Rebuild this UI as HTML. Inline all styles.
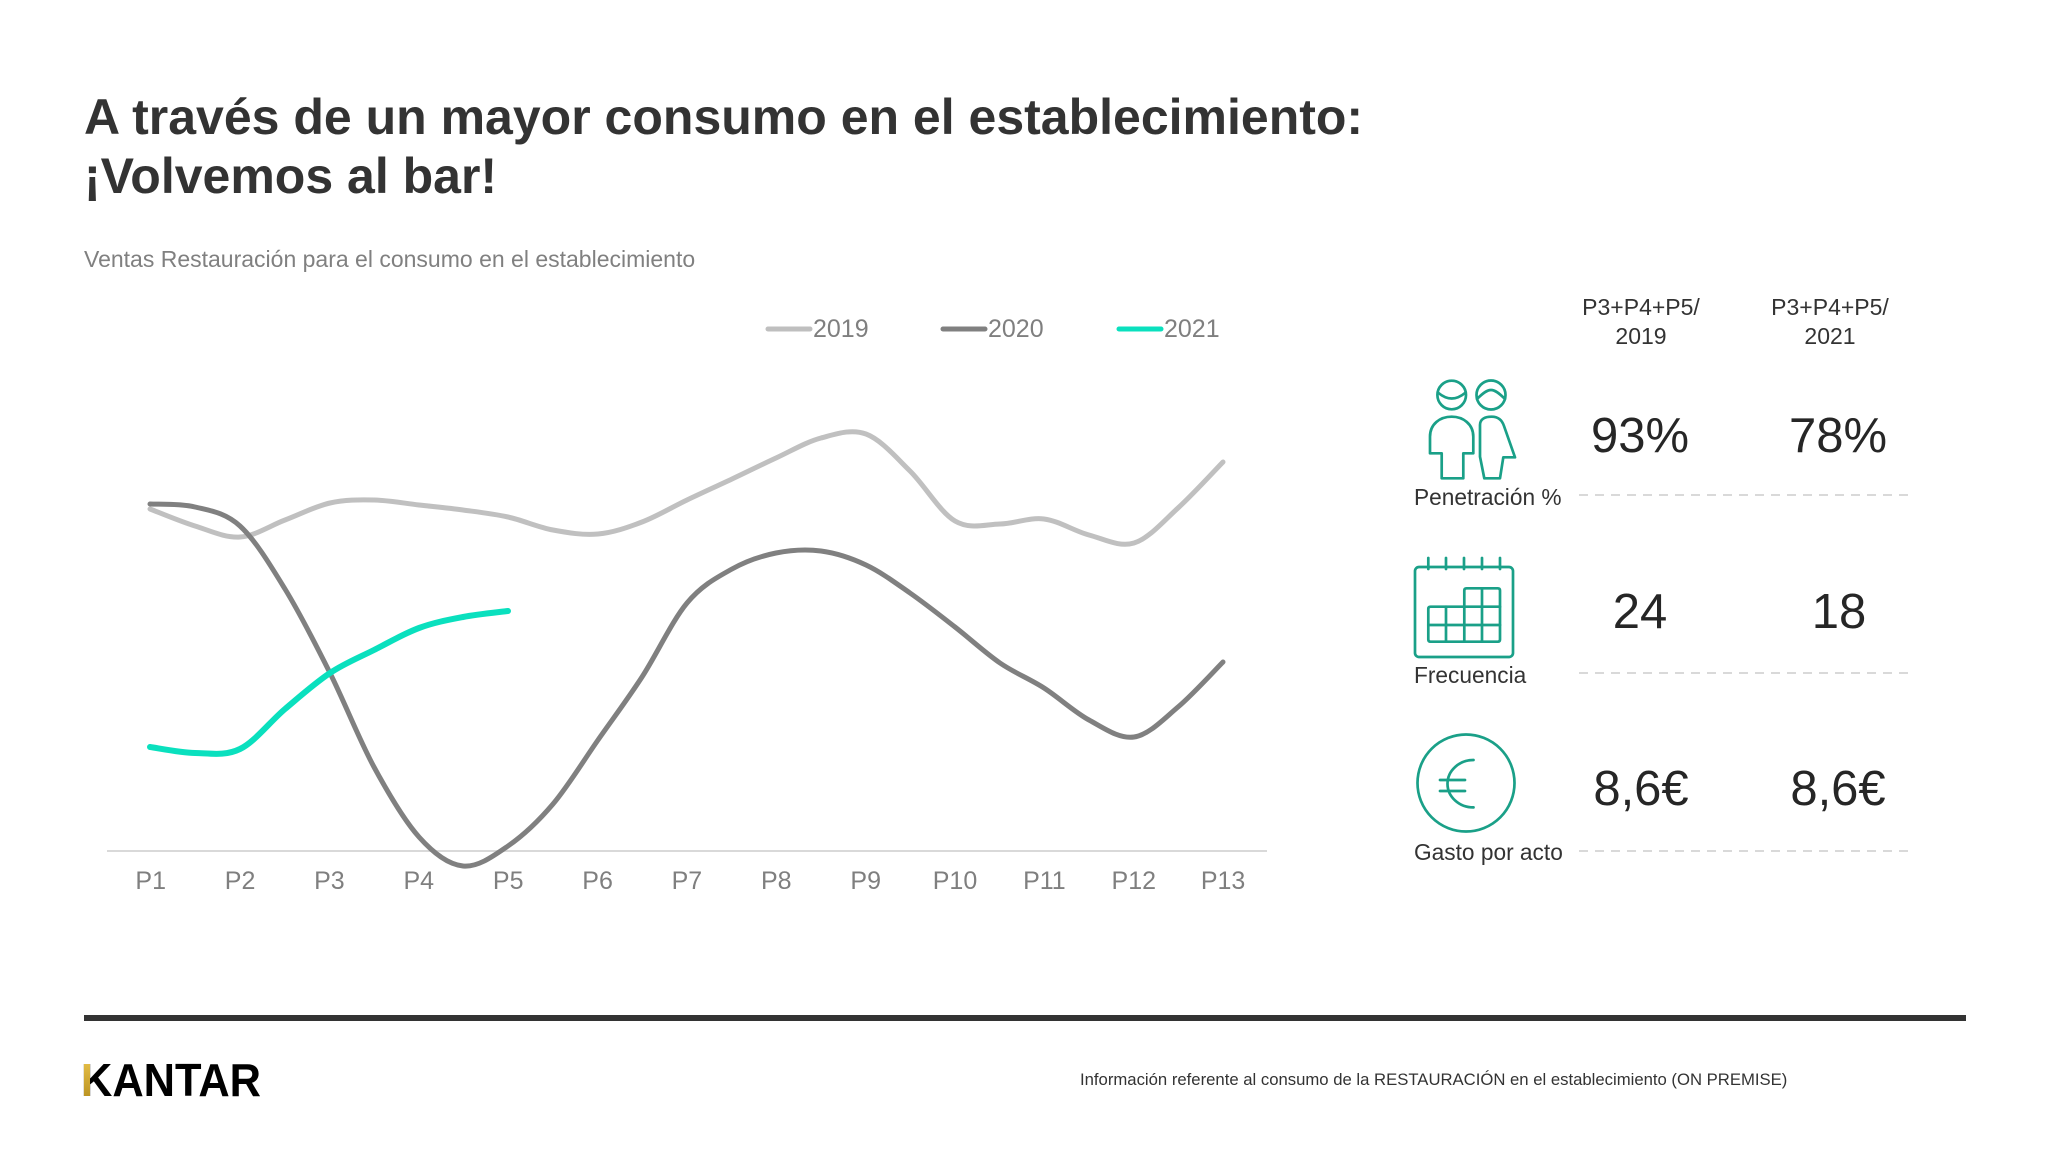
<!DOCTYPE html>
<html>
<head>
<meta charset="utf-8">
<style>
  html,body{margin:0;padding:0;background:#fff;}
  svg{display:block;}
  text{font-family:"Liberation Sans",Arial,sans-serif;}
</style>
</head>
<body>
<svg width="2063" height="1169" viewBox="0 0 2063 1169" xmlns="http://www.w3.org/2000/svg">
  <rect x="0" y="0" width="2063" height="1169" fill="#ffffff"/>

  <!-- Title -->
  <text x="84" y="134" font-size="50" font-weight="bold" fill="#333333">A través de un mayor consumo en el establecimiento:</text>
  <text x="84" y="193" font-size="50" font-weight="bold" fill="#333333">¡Volvemos al bar!</text>

  <!-- Subtitle -->
  <text x="84" y="267" font-size="23" fill="#808080">Ventas Restauración para el consumo en el establecimiento</text>

  <!-- Legend -->
  <line x1="768" y1="329" x2="810" y2="329" stroke="#bfbfbf" stroke-width="5" stroke-linecap="round"/>
  <text x="813" y="337" font-size="25" fill="#7f7f7f">2019</text>
  <line x1="943" y1="329" x2="985" y2="329" stroke="#808080" stroke-width="5" stroke-linecap="round"/>
  <text x="988" y="337" font-size="25" fill="#7f7f7f">2020</text>
  <line x1="1119" y1="329" x2="1161" y2="329" stroke="#0ae0be" stroke-width="5" stroke-linecap="round"/>
  <text x="1164" y="337" font-size="25" fill="#7f7f7f">2021</text>

  <!-- Axis -->
  <line x1="107" y1="851" x2="1267" y2="851" stroke="#d9d9d9" stroke-width="2"/>

  <!-- Tick labels -->
  <g font-size="25" fill="#7f7f7f" text-anchor="middle">
    <text x="150.7" y="889">P1</text>
    <text x="240.1" y="889">P2</text>
    <text x="329.4" y="889">P3</text>
    <text x="418.8" y="889">P4</text>
    <text x="508.2" y="889">P5</text>
    <text x="597.6" y="889">P6</text>
    <text x="686.9" y="889">P7</text>
    <text x="776.3" y="889">P8</text>
    <text x="865.7" y="889">P9</text>
    <text x="955.0" y="889">P10</text>
    <text x="1044.4" y="889">P11</text>
    <text x="1133.8" y="889">P12</text>
    <text x="1223.1" y="889">P13</text>
  </g>

  <!-- Series -->
  <path class="s" fill="none" stroke="#c0c0c0" stroke-width="5" stroke-linecap="round" stroke-linejoin="round"
    d="M150,509 L195,526 L240,537 L285,520 L330,503 L374,500 L419,505 L463,510 L508,517 L553,530 L598,534 L642,522 L687,500 L732,479 L776,458 L821,438 L866,434 L910,471 L955,521 L1000,524 L1044,519 L1089,535 L1134,543 L1178,508 L1223,462"/>
  <path class="s" fill="none" stroke="#808080" stroke-width="5" stroke-linecap="round" stroke-linejoin="round"
    d="M150,504 L195,507 L240,526 L285,589 L330,673 L374,767 L419,837 L463,866 L508,846 L553,804 L598,740 L642,677 L687,603 L732,569 L776,553 L821,551 L866,565 L910,593 L955,627 L1000,663 L1044,688 L1089,720 L1134,737 L1178,707 L1223,662"/>
  <path class="s" fill="none" stroke="#0ae0be" stroke-width="6" stroke-linecap="round" stroke-linejoin="round"
    d="M150,747 L195,753 L240,749 L285,709 L330,673 L374,650 L419,628 L463,617 L508,611"/>

  <!-- Right panel headers -->
  <g font-size="23" fill="#333333" text-anchor="middle">
    <text x="1641" y="315">P3+P4+P5/</text>
    <text x="1641" y="344">2019</text>
    <text x="1830" y="315">P3+P4+P5/</text>
    <text x="1830" y="344">2021</text>
  </g>

  <!-- Values -->
  <g font-size="49" fill="#262626" text-anchor="middle">
    <text x="1640" y="452">93%</text>
    <text x="1838" y="452">78%</text>
    <text x="1640" y="628">24</text>
    <text x="1839" y="628">18</text>
    <text x="1641" y="805">8,6€</text>
    <text x="1838" y="805">8,6€</text>
  </g>

  <!-- Labels -->
  <g font-size="22.7" fill="#333333">
    <text x="1414" y="505">Penetración %</text>
    <text x="1414" y="683">Frecuencia</text>
    <text x="1414" y="860">Gasto por acto</text>
  </g>

  <!-- Dashed separators -->
  <g stroke="#d9d9d9" stroke-width="2" stroke-dasharray="9 7">
    <line x1="1579" y1="495" x2="1908" y2="495"/>
    <line x1="1579" y1="673" x2="1908" y2="673"/>
    <line x1="1579" y1="851" x2="1908" y2="851"/>
  </g>

  <!-- Icons -->
  <g fill="none" stroke="#1aa088" stroke-width="2.7" stroke-linejoin="round" stroke-linecap="round">
    <!-- people -->
    <circle cx="1451.7" cy="395" r="14.3"/>
    <path d="M1438.5,393 Q1451.7,404 1465,393"/>
    <circle cx="1491" cy="395" r="14.5"/>
    <path d="M1477,399 C1483,393 1487,390 1491,390 C1495,390 1499,393 1505,399"/>
    <path d="M1441.7,478.3 L1441.7,453.3 L1430,453.3 L1430,436.7 C1430,424 1440,416.7 1451.7,416.7 C1463,416.7 1473.3,424 1473.3,436.7 L1473.3,453.3 L1463.3,453.3 L1463.3,478.3 Z"/>
    <path d="M1484.3,478.3 L1480,456.7 L1480,425 C1480,419 1485,416.7 1491.7,416.7 C1498,416.7 1502,420 1504,426 L1515,457.3 L1503.3,457.3 L1500,478.3 Z"/>

    <!-- calendar -->
    <rect x="1415" y="567" width="98" height="90" rx="4"/>
    <line x1="1428.3" y1="558" x2="1428.3" y2="569"/>
    <line x1="1446" y1="558" x2="1446" y2="569"/>
    <line x1="1464" y1="558" x2="1464" y2="569"/>
    <line x1="1482" y1="558" x2="1482" y2="569"/>
    <line x1="1500" y1="558" x2="1500" y2="569"/>
    <path d="M1430.5,606.7 L1464.3,606.7 L1464.3,590.5 Q1464.3,588.3 1466.5,588.3 L1497.8,588.3 Q1500,588.3 1500,590.5 L1500,639.5 Q1500,641.7 1497.8,641.7 L1430.5,641.7 Q1428.3,641.7 1428.3,639.5 L1428.3,608.9 Q1428.3,606.7 1430.5,606.7 Z"/>
    <line x1="1446" y1="606.7" x2="1446" y2="641.7"/>
    <line x1="1464.3" y1="606.7" x2="1464.3" y2="641.7"/>
    <line x1="1482" y1="588.3" x2="1482" y2="641.7"/>
    <line x1="1428.3" y1="625" x2="1500" y2="625"/>
    <line x1="1464.3" y1="606.7" x2="1500" y2="606.7"/>

    <!-- euro -->
    <circle cx="1466" cy="783" r="48.5"/>
    <path d="M1473.5,760 A26,23.7 0 0 0 1473.5,807.4"/>
    <line x1="1440" y1="780" x2="1465" y2="780"/>
    <line x1="1440" y1="791" x2="1465" y2="791"/>
  </g>

  <!-- Footer -->
  <rect x="84" y="1015" width="1882" height="6" fill="#333333"/>
  <defs>
    <linearGradient id="gold" x1="0" y1="0" x2="0" y2="1">
      <stop offset="0" stop-color="#e9c24a"/>
      <stop offset="1" stop-color="#b8901e"/>
    </linearGradient>
    <clipPath id="kclip">
      <text x="81" y="1096" font-size="46.6" font-weight="bold" textLength="180" lengthAdjust="spacingAndGlyphs">KANTAR</text>
    </clipPath>
  </defs>
  <text x="81" y="1096" font-size="46.6" font-weight="bold" fill="#000000" textLength="180" lengthAdjust="spacingAndGlyphs">KANTAR</text>
  <rect x="79" y="1058" width="11" height="42" fill="url(#gold)" clip-path="url(#kclip)"/>
  <text x="1080" y="1085" font-size="16.7" fill="#333333">Información referente al consumo de la RESTAURACIÓN en el establecimiento (ON PREMISE)</text>
</svg>
<script>
(function(){
  var paths=document.querySelectorAll('path.s');
  for(var k=0;k<paths.length;k++){
    var p=paths[k];
    var n=p.getAttribute('d').match(/-?\d+(\.\d+)?/g).map(Number);
    var pts=[];
    for(var i=0;i<n.length;i+=2)pts.push([n[i],n[i+1]]);
    var d='M'+pts[0][0]+','+pts[0][1];
    for(var i=0;i<pts.length-1;i++){
      var p0=pts[i-1]||pts[i],p1=pts[i],p2=pts[i+1],p3=pts[i+2]||p2;
      var c1x=p1[0]+(p2[0]-p0[0])/6,c1y=p1[1]+(p2[1]-p0[1])/6;
      var c2x=p2[0]-(p3[0]-p1[0])/6,c2y=p2[1]-(p3[1]-p1[1])/6;
      d+=' C'+c1x.toFixed(2)+','+c1y.toFixed(2)+' '+c2x.toFixed(2)+','+c2y.toFixed(2)+' '+p2[0]+','+p2[1];
    }
    p.setAttribute('d',d);
  }
})();
</script>
</body>
</html>
